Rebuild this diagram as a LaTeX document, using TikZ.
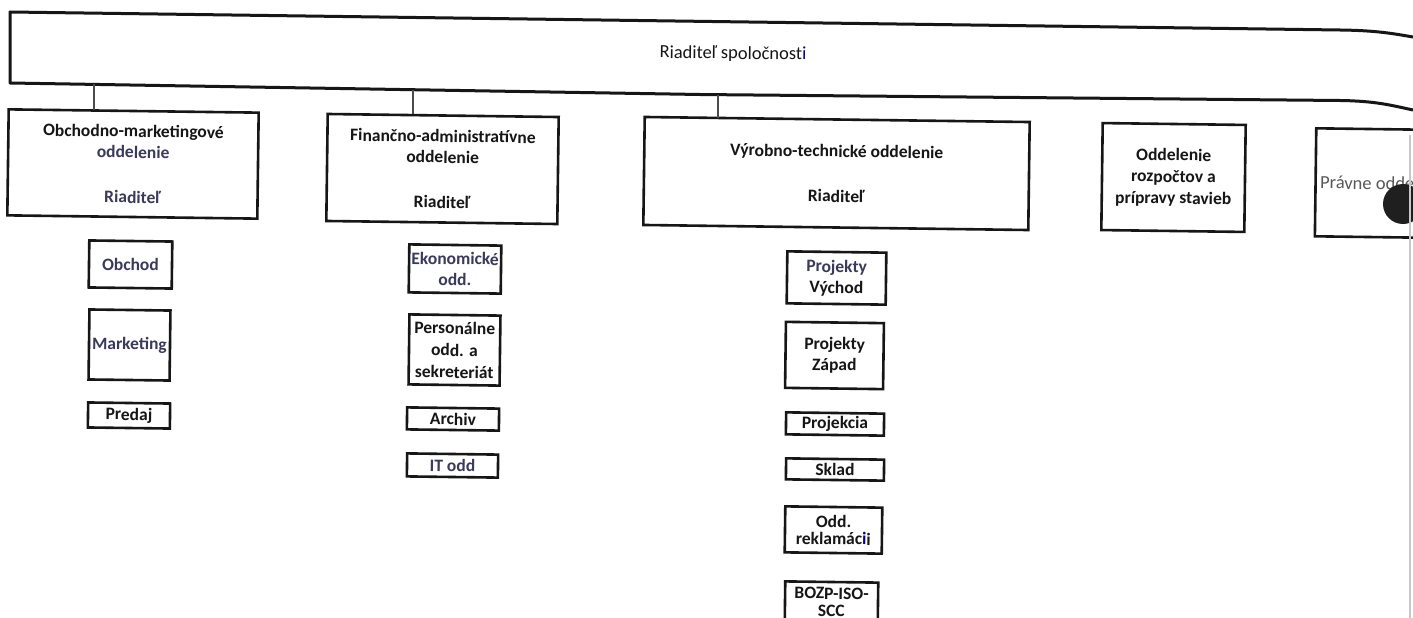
\documentclass[tikz,border=0pt]{standalone}
\usepackage{fontspec}
\setmainfont{Carlito}
\definecolor{slate}{RGB}{58,58,90}
\definecolor{ink}{RGB}{22,22,22}
\begin{document}
\begin{tikzpicture}[x=1pt,y=-1pt,
  box/.style={draw=ink, line width=2.6pt, rectangle, inner sep=0pt, align=center,
    rotate=-0.75, font=\bfseries\fontsize{17.5}{21}\selectfont, text=ink},
  conn/.style={draw=black!70, line width=1.3pt},
  frame/.style={draw=ink, line width=3pt, line join=round},
]
\useasboundingbox (0,0) rectangle (1413,618);
\fill[white] (0,0) rectangle (1413,618);
\clip (0,0) rectangle (1413,618);

% top box
\draw[frame] (1413,37) .. controls (1390,33) and (1375,30.5) .. (1340,30)
  -- (10,12) -- (10,83) -- (700,94.5) -- (1340,100.5)
  .. controls (1375,101) and (1390,105) .. (1413,110);
\node[font=\fontsize{18.5}{22}\selectfont, text=ink, rotate=-0.75] (ceo) at (733,54)
  {Riaditeľ spoločnost\textcolor{blue!60!black}{i}};
\coordinate (c1) at (94,84.4);
\coordinate (c2) at (413,89.7);
\coordinate (c3) at (718,94.7);

% department boxes
\node[box, minimum width=250pt, minimum height=106pt] (box1) at (133,164)
  {Obchodno-marketingové\\\textcolor{slate}{oddelenie}\\[24pt]\textcolor{slate}{Riaditeľ}};
\node[box, minimum width=231pt, minimum height=107pt] (box2) at (442.5,169)
  {Finančno-administratívne\\oddelenie\\[24pt]Riaditeľ};
\node[box, minimum width=385pt, minimum height=108pt] (box3) at (836.5,173.5)
  {Výrobno-technické oddelenie\\[24pt]Riaditeľ};
\node[box, minimum width=143pt, minimum height=107pt,
  font=\bfseries\fontsize{17.5}{21.5}\selectfont] (box4) at (1173.5,177.5)
  {Oddelenie\\rozpočtov a\\prípravy stavieb};
\node[box, anchor=north west, minimum width=140pt, minimum height=108pt,
  font=\fontsize{18.5}{21}\selectfont, text=black!65] (box5) at (1315,127)
  {Právne oddelenie};
\fill[black!88] (1403,204) circle (20pt);

\draw[conn] (c1) -- (c1 |- box1.north);
\draw[conn] (c2) -- (c2 |- box2.north);
\draw[conn] (c3) -- (c3 |- box3.north);

% column 1
\node[box, minimum width=83pt, minimum height=47pt, text=slate] (obchod) at (130.5,264.5) {Obchod};
\node[box, minimum width=81pt, minimum height=70pt, text=slate] (marketing) at (129.5,345) {Marketing};
\node[box, minimum width=82pt, minimum height=25pt] (predaj) at (129,415.5) {Predaj};

% column 2
\node[box, minimum width=92pt, minimum height=48pt, text=slate] (ekon) at (455,269) {Ekonomické\\odd.};
\node[box, minimum width=91pt, minimum height=70pt,
  font=\bfseries\fontsize{17.5}{22}\selectfont] (person) at (454.5,350) {Personálne\\odd. a\\sekreteriát};
\node[box, minimum width=92pt, minimum height=22pt] (archiv) at (453,419) {Archiv};
\node[box, minimum width=91pt, minimum height=23pt, text=slate] (itodd) at (452.5,465.5) {IT odd};

% column 3
\node[box, minimum width=99pt, minimum height=52pt] (vychod) at (836.5,278) {\textcolor{slate}{Projekty}\\Východ};
\node[box, minimum width=98pt, minimum height=66pt] (zapad) at (834.5,355.5) {Projekty\\Západ};
\node[box, minimum width=98pt, minimum height=22pt] (projekcia) at (835,424) {Projekcia};
\node[box, minimum width=98pt, minimum height=21pt] (sklad) at (835,469.5) {Sklad};
\node[box, minimum width=97pt, minimum height=46pt] (reklam) at (833.5,530) {Odd.\\[-4pt]reklamác\textcolor{blue!60!black}{i}i};
\node[box, minimum width=93pt, minimum height=40pt] (bozp) at (831.5,602) {BOZP-ISO-\\[-4pt]SCC};

% scan edge
\draw[black!22, line width=2pt] (1410,135) -- (1410,618);
\end{tikzpicture}
\end{document}
